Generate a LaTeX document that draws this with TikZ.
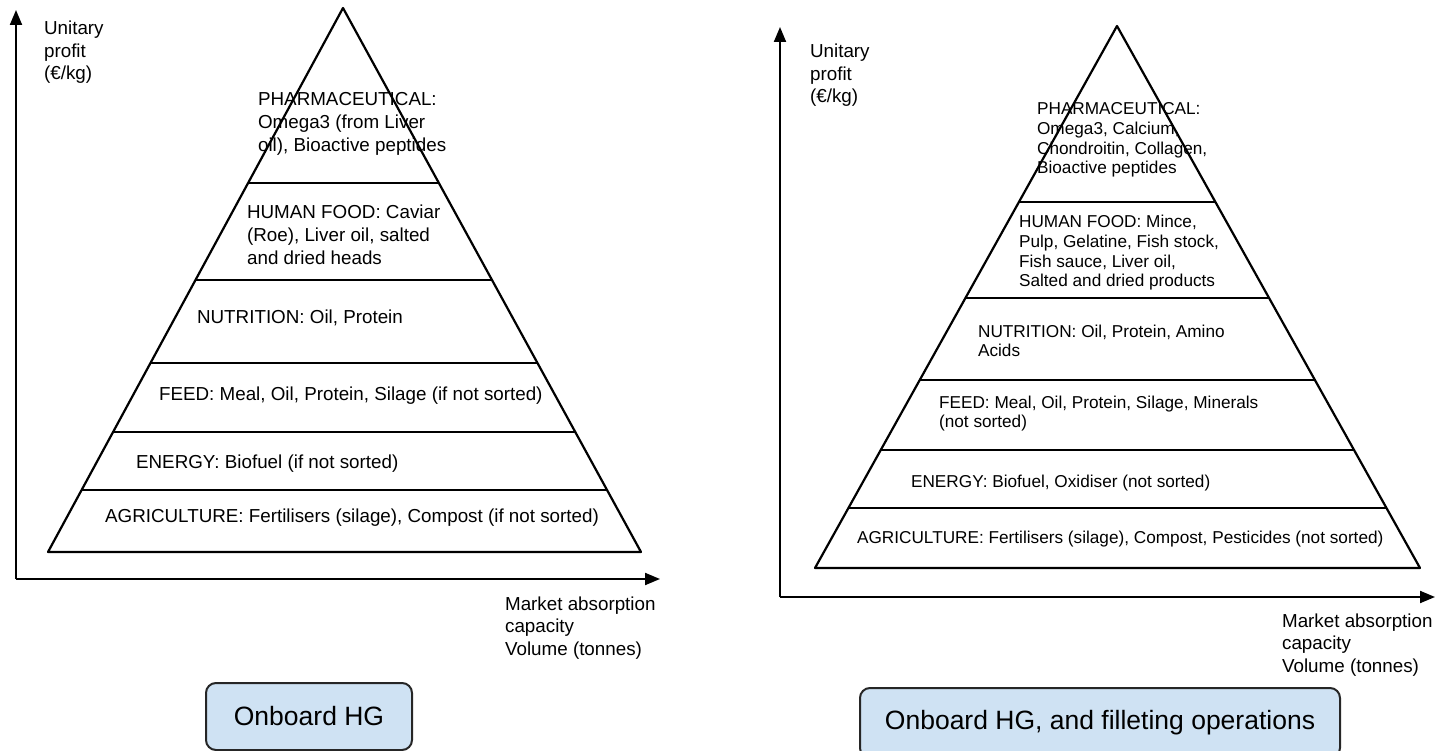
\documentclass[tikz,border=0pt]{standalone}
\usepackage{fontspec}
\setmainfont{Liberation Sans}
\usetikzlibrary{arrows.meta,calc}
\definecolor{boxblue}{HTML}{CFE2F3}
\tikzstyle{layer}=[anchor=base west,inner sep=0pt,align=left,font=\fontsize{18.8}{23}\selectfont]
\tikzstyle{layersmall}=[layer,font=\fontsize{17.2}{19.7}\selectfont]
\tikzstyle{axislabel}=[anchor=base west,inner sep=0pt,align=left,font=\fontsize{18.8}{22.5}\selectfont]
\tikzstyle{axis}=[line width=2pt,-{Triangle[length=15pt,width=12pt]}]
\tikzstyle{casebox}=[draw=black!85,line width=2pt,fill=boxblue,rounded corners=10pt,inner sep=0pt,font=\fontsize{26.5}{30}\selectfont]

\begin{document}
\begin{tikzpicture}[x=1pt,y=-1pt,line width=2.2pt,line join=round]
    \useasboundingbox (0,0) rectangle (1436,751);

    % left: onboard HG
    \coordinate (lo) at (16,579);
    \coordinate (ltop) at (16,10);
    \coordinate (lend) at (660,579);
    \draw [axis] (lo) -- (ltop);
    \draw [axis] (lo) -- (lend);
    \coordinate (lapex) at (343,8);
    \coordinate (lbl) at (48,552);
    \coordinate (lbr) at (641,552);
    \draw (lapex) -- (lbl) -- (lbr) -- cycle;
    \draw ($(lapex)!0.3217!(lbl)$) -- ($(lapex)!0.3217!(lbr)$);
    \draw ($(lapex)!0.5!(lbl)$) -- ($(lapex)!0.5!(lbr)$);
    \draw ($(lapex)!0.6526!(lbl)$) -- ($(lapex)!0.6526!(lbr)$);
    \draw ($(lapex)!0.7794!(lbl)$) -- ($(lapex)!0.7794!(lbr)$);
    \draw ($(lapex)!0.886!(lbl)$) -- ($(lapex)!0.886!(lbr)$);

    % multi-line texts sit on the baseline of their last line
    \node [axislabel] (lprofit) at (43,80) {Unitary\\profit\\(€/kg)};
    \node [axislabel] (lvolume) at (504,655) {Market absorption\\capacity\\Volume (tonnes)};

    \node [layer] (lpharma) at (257,152) {PHARMACEUTICAL:\\Omega3 (from Liver\\oil), Bioactive peptides};
    \node [layer] (lfood) at (246,265) {HUMAN FOOD: Caviar\\(Roe), Liver oil, salted\\and dried heads};
    \node [layer] (lnutri) at (196,324) {NUTRITION: Oil, Protein};
    \node [layer] (lfeed) at (158,401) {FEED: Meal, Oil, Protein, Silage (if not sorted)};
    \node [layer] (lenergy) at (135,468) {ENERGY: Biofuel (if not sorted)};
    \node [layer] (lagri) at (104,522) {AGRICULTURE: Fertilisers (silage), Compost (if not sorted)};

    \node [casebox,minimum width=206pt,minimum height=67pt] (lcase) at (309,716.5) {Onboard HG};

    % right: onboard HG and filleting
    \coordinate (ro) at (780,597);
    \coordinate (rtop) at (780,27);
    \coordinate (rend) at (1435,597);
    \draw [axis] (ro) -- (rtop);
    \draw [axis] (ro) -- (rend);
    \coordinate (rapex) at (1117,26);
    \coordinate (rbl) at (815,568);
    \coordinate (rbr) at (1420,568);
    \draw (rapex) -- (rbl) -- (rbr) -- cycle;
    \draw ($(rapex)!0.3247!(rbl)$) -- ($(rapex)!0.3247!(rbr)$);
    \draw ($(rapex)!0.5018!(rbl)$) -- ($(rapex)!0.5018!(rbr)$);
    \draw ($(rapex)!0.6531!(rbl)$) -- ($(rapex)!0.6531!(rbr)$);
    \draw ($(rapex)!0.7823!(rbl)$) -- ($(rapex)!0.7823!(rbr)$);
    \draw ($(rapex)!0.8893!(rbl)$) -- ($(rapex)!0.8893!(rbr)$);

    \node [axislabel] (rprofit) at (809,103) {Unitary\\profit\\(€/kg)};
    \node [axislabel] (rvolume) at (1281,672) {Market absorption\\capacity\\Volume (tonnes)};

    \node [layersmall] (rpharma) at (1036,174) {PHARMACEUTICAL:\\Omega3, Calcium,\\Chondroitin, Collagen,\\Bioactive peptides};
    \node [layersmall] (rfood) at (1018,287) {HUMAN FOOD: Mince,\\Pulp, Gelatine, Fish stock,\\Fish sauce, Liver oil,\\Salted and dried products};
    \node [layersmall] (rnutri) at (977,357) {NUTRITION: Oil, Protein, Amino\\Acids};
    \node [layersmall] (rfeed) at (938,428) {FEED: Meal, Oil, Protein, Silage, Minerals\\(not sorted)};
    \node [layersmall] (renergy) at (910,487) {ENERGY: Biofuel, Oxidiser (not sorted)};
    \node [layersmall] (ragri) at (856,543) {AGRICULTURE: Fertilisers (silage), Compost, Pesticides (not sorted)};

    \node [casebox,minimum width=480pt,minimum height=70pt] (rcase) at (1100,723) {Onboard HG, and filleting operations};
\end{tikzpicture}
\end{document}
